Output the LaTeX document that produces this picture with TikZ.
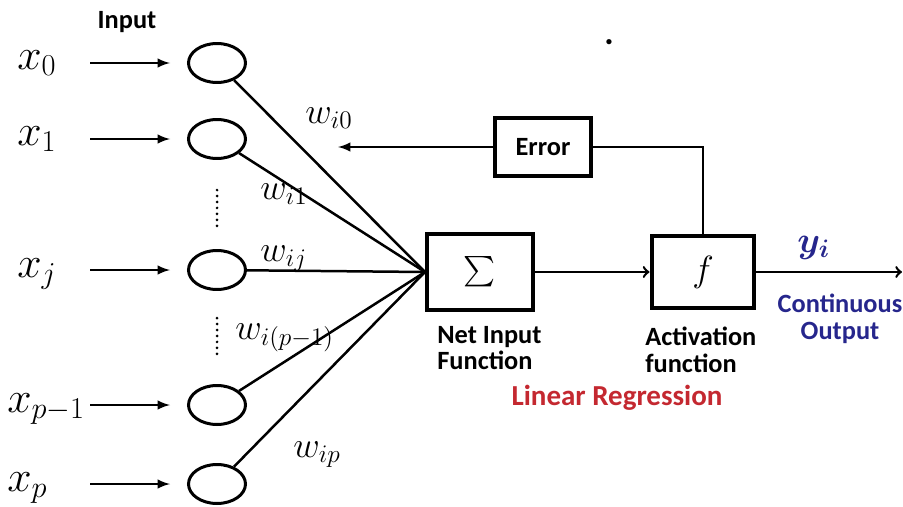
\documentclass[tikz,border=0pt]{standalone}
\usepackage{amsmath}
\usepackage{fontspec}
\usepackage{tikz}
\usetikzlibrary{arrows,shapes}
\newfontfamily\labfont{Carlito}
\definecolor{outblue}{RGB}{38,38,140}
\definecolor{regred}{RGB}{196,40,48}

\begin{document}
\begin{tikzpicture}[-, x=0.02cm, y=-0.02cm,
  in node/.style={ellipse, draw, line width=0.06cm, minimum width=1.14cm, minimum height=0.78cm, inner sep=0},
  blk/.style={rectangle, draw, line width=0.08cm, inner sep=0},
  lab/.style={font=\labfont\bfseries\fontsize{15}{15}\selectfont, inner sep=0},
  xlab/.style={font=\fontsize{23}{26}\selectfont, inner sep=0, anchor=base west},
  wlab/.style={font=\fontsize{20}{22}\selectfont, inner sep=0, anchor=base west},
  con/.style={line width=0.05cm},
  dots/.style={line width=0.06cm, dash pattern=on 0pt off 0.12cm, line cap=round}]
\useasboundingbox (0,0) rectangle (903,507);
% inputs
\node[lab, anchor=base] (inp) at (127,29) {Input};
\node[xlab] (x0) at (17,69) {$x_0$};
\node[xlab] (x1) at (17,145) {$x_1$};
\node[xlab] (xj) at (17,277) {$x_j$};
\node[xlab] (xp1) at (7,412) {$x_{p-1}$};
\node[xlab] (xp) at (7,491) {$x_p$};
\coordinate (a0) at (90,63);
\coordinate (a1) at (90,139);
\coordinate (aj) at (90,270);
\coordinate (ap1) at (90,405);
\coordinate (ap) at (90,484);
\node[in node] (n0) at (217,63) {};
\node[in node] (n1) at (217,139) {};
\node[in node] (nj) at (217,270) {};
\node[in node] (np1) at (217,405) {};
\node[in node] (np) at (217,484) {};
\draw[dots] (217,190) -- (217,228);
\draw[dots] (217,318) -- (217,356);
% blocks
\node[blk, minimum width=2.12cm, minimum height=1.52cm, font=\fontsize{19}{20}\selectfont] (sum) at (480,272) {$\sum$};
\node[blk, lab, minimum width=1.94cm, minimum height=1.18cm] (err) at (543,147) {Error};
\node[blk, minimum width=2.06cm, minimum height=1.46cm, font=\fontsize{22}{24}\selectfont] (act) at (703,272) {$f$};
\coordinate (fb) at (338,147);
\coordinate (out) at (902,272);
% weights
\node[wlab] (w0) at (305,123) {$w_{i0}$};
\node[wlab] (w1) at (260,199) {$w_{i1}$};
\node[wlab] (wj) at (260,261) {$w_{ij}$};
\node[wlab] (wp1) at (235,339) {$w_{i(p-1)}$};
\node[wlab] (wp) at (293,457) {$w_{ip}$};
% texts
\node[lab, anchor=north west, align=left] (netlab) at (437,326) {Net Input\\Function};
\node[lab, anchor=north west, align=left] (actlab) at (645,327) {Activation\\function};
\node[font=\fontsize{22}{24}\selectfont, text=outblue, anchor=base west, inner sep=0] (yi) at (797,252) {$\boldsymbol{y_i}$};
\node[lab, text=outblue, anchor=north, align=center] (cout) at (840,294) {Continuous\\Output};
\node[lab, text=regred, anchor=base, font=\labfont\bfseries\fontsize{16.5}{17}\selectfont] (reg) at (617,405) {Linear Regression};
\node[lab, anchor=base, font=\labfont\bfseries\fontsize{20}{20}\selectfont] (dot) at (609,44) {.};
% connections
\path[-latex, con, shorten >=0.34cm]
(a0) edge (n0)
(a1) edge (n1)
(aj) edge (nj)
(ap1) edge (np1)
(ap) edge (np);
\path[con]
(n0) edge (sum.west)
(n1) edge (sum.west)
(nj) edge (sum.west)
(np1) edge (sum.west)
(np) edge (sum.west);
\path[-to, con]
(sum) edge (act)
(act.east) edge (out);
\draw[-latex, con] (err.west) -- (fb);
\draw[con] (err.east) -| (act.north);
\end{tikzpicture}
\end{document}
